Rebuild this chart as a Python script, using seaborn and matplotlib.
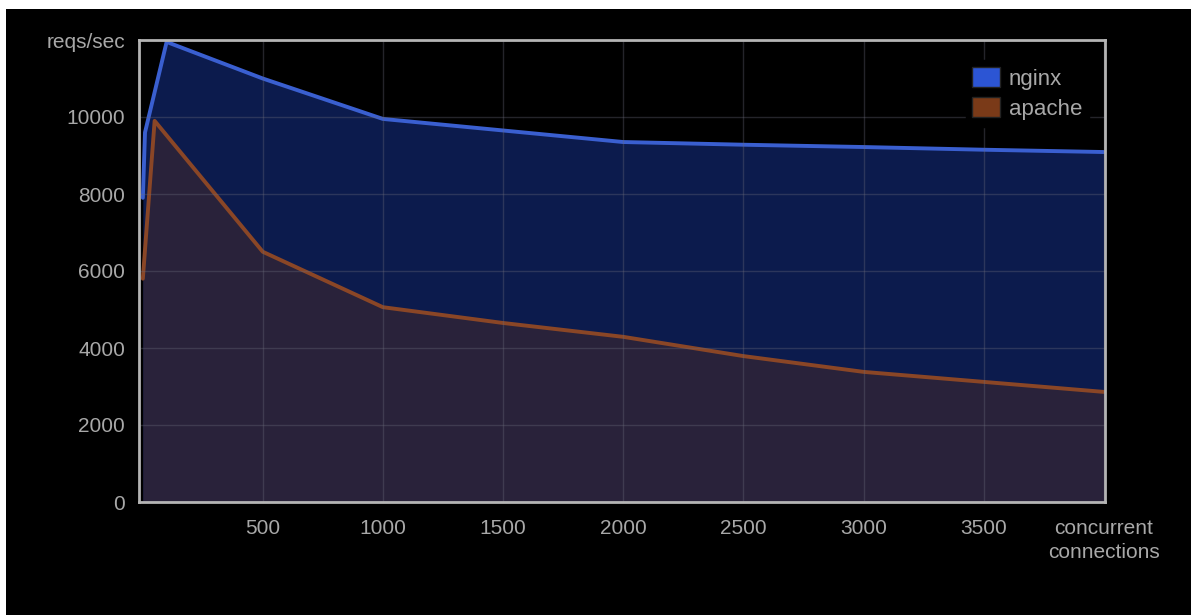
import matplotlib
matplotlib.use("Agg")
import matplotlib.pyplot as plt
import matplotlib.patches as mpatches
import seaborn as sns
import pandas as pd

# values
conns_nginx = [1, 10, 100, 500, 1000, 2000, 2500, 3000, 3500, 4000]
reqs_nginx = [7900, 9600, 11950, 11000, 9950, 9350, 9280, 9220, 9150, 9090]
conns_apache = [1, 50, 500, 1000, 1500, 2000, 2500, 3000, 3500, 4000]
reqs_apache = [5800, 9900, 6500, 5060, 4650, 4290, 3790, 3380, 3120, 2860]

x_ticks = [500, 1000, 1500, 2000, 2500, 3000, 3500, 4000]
x_labels = ["500", "1000", "1500", "2000", "2500", "3000", "3500", "concurrent\nconnections"]
y_ticks = [0, 2000, 4000, 6000, 8000, 10000, 12000]
y_labels = ["0", "2000", "4000", "6000", "8000", "10000", "reqs/sec"]

df = pd.concat([
    pd.DataFrame({"conns": conns_nginx, "reqs": reqs_nginx, "server": "nginx"}),
    pd.DataFrame({"conns": conns_apache, "reqs": reqs_apache, "server": "apache"}),
])

sns.set_theme(style="dark")
plt.rcParams["font.family"] = ["Liberation Sans", "DejaVu Sans"]

line_cols = {"nginx": "#3a5fd0", "apache": "#8a4626"}
fill_cols = {"nginx": "#0c1b4d", "apache": "#29223a"}
legend_cols = {"nginx": "#2c55d4", "apache": "#7a3a18"}

fig = plt.figure(figsize=(11.91, 6.15), dpi=100, facecolor="white")
# black video frame, leaving the thin white strip top/left
frame = mpatches.Rectangle((6 / 1191, 0), 1, 1 - 9 / 615, transform=fig.transFigure,
                           facecolor="black", edgecolor="none", zorder=-10)
fig.add_artist(frame)
ax = fig.add_axes([139 / 1191, 1 - 502 / 615, (1105 - 139) / 1191, (502 - 40) / 615])
ax.set_zorder(1)
ax.set_facecolor("black")

for name in ["nginx", "apache"]:
    sub = df[df.server == name]
    ax.fill_between(sub.conns, sub.reqs, 0, color=fill_cols[name], lw=0, zorder=1)
sns.lineplot(data=df, x="conns", y="reqs", hue="server", palette=line_cols,
             linewidth=2.8, legend=False, sort=False, ax=ax, zorder=2)

ax.set_xlim(-15, 4005)
ax.set_ylim(0, 12000)
ax.set_xticks(x_ticks)
ax.set_xticklabels(x_labels)
ax.set_yticks(y_ticks)
ax.set_yticklabels(y_labels)
ax.set_xlabel("")
ax.set_ylabel("")
ax.tick_params(colors="#a8a8a8", labelsize=15, length=0)
ax.tick_params(axis="x", pad=12)
ax.tick_params(axis="y", pad=10)
for lab in ax.get_xticklabels():
    lab.set_verticalalignment("top")
    lab.set_linespacing(1.35)

ax.grid(True, color="#6a6a7a", alpha=0.35, lw=1)
ax.set_axisbelow(False)
for s in ax.spines.values():
    s.set_visible(True)
    s.set_color("#b4b4b4")
    s.set_linewidth(2)
    s.set_zorder(5)

handles = [mpatches.Patch(facecolor=legend_cols[n], edgecolor="#222222", label=n) for n in ["nginx", "apache"]]
leg = ax.legend(handles=handles, loc="upper right", frameon=True, fontsize=16,
                handlelength=1.25, handleheight=1.0, handletextpad=0.4, labelspacing=0.35,
                borderpad=0.3, bbox_to_anchor=(0.995, 0.98))
leg.get_frame().set_facecolor("black")
leg.get_frame().set_edgecolor("black")
leg.get_frame().set_alpha(1)
leg.set_zorder(6)
for t in leg.get_texts():
    t.set_color("#a8a8a8")

fig.savefig("out.png", dpi=100, facecolor=fig.get_facecolor())
